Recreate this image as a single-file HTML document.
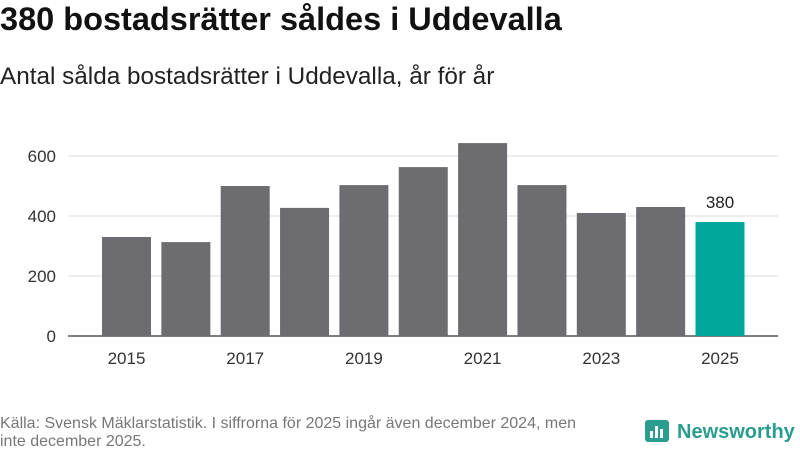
<!DOCTYPE html>
<html><head><meta charset="utf-8"><style>
body{margin:0;width:800px;height:450px;background:#fff;font-family:"Liberation Sans","DejaVu Sans",sans-serif;overflow:hidden;position:relative}
h1{position:absolute;left:0;top:1px;margin:0;font-size:32.5px;font-weight:bold;color:#111}
h2{position:absolute;left:0;top:63px;margin:0;font-size:24.3px;font-weight:normal;color:#222}
.src{position:absolute;left:0;top:415px;font-size:16px;color:#777;line-height:18px;width:590px}
.logo{position:absolute;left:645px;top:420px;display:flex;align-items:center;font-size:20px;font-weight:bold;color:#2a9d8f}
</style></head><body>
<h1>380 bostadsrätter såldes i Uddevalla</h1>
<h2>Antal sålda bostadsrätter i Uddevalla, år för år</h2>
<svg id="c" width="800" height="450" style="position:absolute;left:0;top:0"></svg>
<div class="src">Källa: Svensk Mäklarstatistik. I siffrorna för 2025 ingår även december 2024, men inte december 2025.</div>
<div class="logo"><svg width="24" height="24" style="margin-right:8px"><rect width="24" height="22" rx="3" fill="#2a9d8f"/><rect x="5" y="11" width="3" height="7" fill="#fff"/><rect x="10" y="6" width="3" height="12" fill="#fff"/><rect x="15" y="9" width="3" height="9" fill="#fff"/></svg>Newsworthy</div>
<script>
const categories=[2015,2016,2017,2018,2019,2020,2021,2022,2023,2024,2025];
const values=[330,313,500,427,503,563,643,503,410,430,380];
const yTicks=[0,200,400,600];
const xLabels=[2015,2017,2019,2021,2023,2025];
const svg=document.getElementById('c');const NS='http://www.w3.org/2000/svg';
const y=v=>336-v*0.3;const x=i=>126.5+i*59.35;
function mk(t,a,txt){const e=document.createElementNS(NS,t);for(const k in a)e.setAttribute(k,a[k]);if(txt!=null)e.textContent=txt;svg.appendChild(e);return e;}
yTicks.forEach(t=>{
 const l=mk('line',{x1:68,x2:778,y1:y(t),y2:y(t),stroke:t?'#ddd':'#333','stroke-width':t?1:1.2});
 
 
 const tx=mk('text',{x:56,y:y(t)+6,'text-anchor':'end','font-size':17,fill:'#333'},t);
 
 
});
values.forEach((v,i)=>{
 const last=i===values.length-1;
 const r=mk('rect',{x:x(i)-24.5,y:y(v),width:49,height:336-y(v),fill:last?'#00a69a':'#6d6c71'});
 
 
 if(last){const t=mk('text',{x:x(i),y:y(v)-14,'text-anchor':'middle','font-size':17,fill:'#222'},v);
 
 }
});
xLabels.forEach(c=>{const i=categories.indexOf(c);
 const t=mk('text',{x:x(i),y:364,'text-anchor':'middle','font-size':17,fill:'#333'},c);
 
 
});
</script>
</body></html>
